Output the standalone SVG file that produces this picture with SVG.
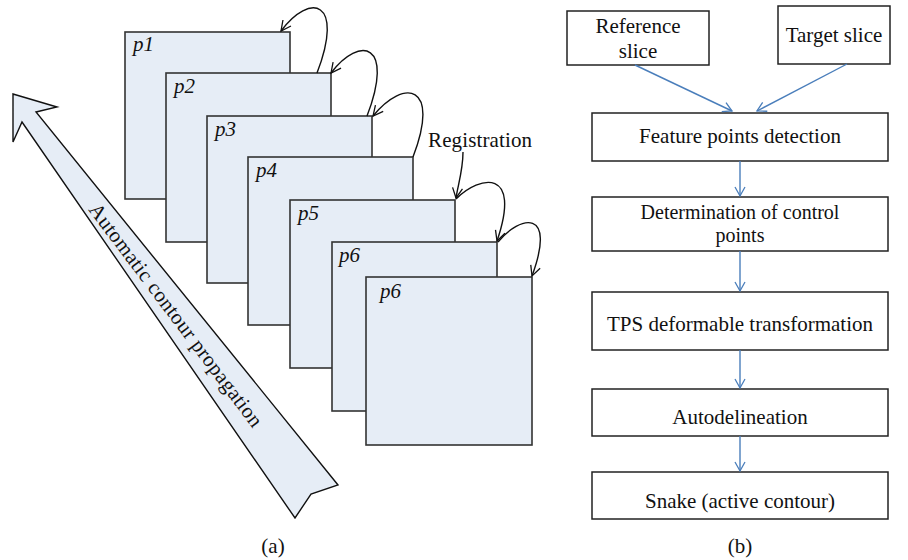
<svg xmlns="http://www.w3.org/2000/svg" width="908" height="560" viewBox="0 0 908 560">
<style>
.slice{fill:#e6edf6;stroke:#333;stroke-width:1.6}
.lbl{font-family:"Liberation Serif",serif;font-style:italic;font-size:21px;fill:#111}
.t{font-family:"Liberation Serif",serif;font-size:21px;fill:#111}
.box{fill:#fff;stroke:#222;stroke-width:1.5}
.loop{fill:none;stroke:#111;stroke-width:1.4;marker-end:url(#ah)}
.flow{fill:none;stroke:#4a7ebb;stroke-width:1.4;marker-end:url(#bh)}
</style>
<defs>
<marker id="ah" markerUnits="userSpaceOnUse" markerWidth="14" markerHeight="14" refX="11" refY="6" orient="auto"><path d="M1,1 L11,6 L1,11" fill="none" stroke="#111" stroke-width="1.3"/></marker>
<marker id="bh" markerUnits="userSpaceOnUse" markerWidth="14" markerHeight="14" refX="11" refY="6" orient="auto"><path d="M2,1 L11,6 L2,11" fill="none" stroke="#4a7ebb" stroke-width="1.3"/></marker>
</defs>
<g id="propagation-arrow">
<polygon points="13,94 57,107 36,112 338,485 311,494 295,518 22,122 13,142" fill="#e6edf6" stroke="#111" stroke-width="1.4" stroke-linejoin="miter"/>
<text class="t" transform="translate(176,315) rotate(53)" x="0" y="7" text-anchor="middle" textLength="274">Automatic contour propagation</text>
</g>
<g id="slice-p1"><rect class="slice" x="125" y="32" width="165" height="167"/><text class="lbl" x="133" y="51">p1</text></g>
<g id="slice-p2"><rect class="slice" x="166" y="73" width="165" height="169"/><text class="lbl" x="174" y="93">p2</text></g>
<g id="slice-p3"><rect class="slice" x="207" y="116" width="165" height="167"/><text class="lbl" x="215" y="136">p3</text></g>
<g id="slice-p4"><rect class="slice" x="248" y="157" width="165" height="168"/><text class="lbl" x="256" y="177">p4</text></g>
<g id="slice-p5"><rect class="slice" x="290" y="200" width="165" height="168"/><text class="lbl" x="298" y="220">p5</text></g>
<g id="slice-p6a"><rect class="slice" x="332" y="242" width="165" height="169"/><text class="lbl" x="339" y="262">p6</text></g>
<g id="slice-p6b"><rect class="slice" x="366" y="277" width="166" height="168"/><text class="lbl" x="380" y="298">p6</text></g>
<g id="registration-label"><text class="t" x="428" y="147" textLength="104">Registration</text></g>
<g id="box-ref"><rect class="box" x="567" y="11" width="142" height="54"/><text class="t" x="638" y="33" text-anchor="middle">Reference</text><text class="t" x="638" y="58" text-anchor="middle">slice</text></g>
<g id="box-target"><rect class="box" x="778" y="6" width="112" height="58"/><text class="t" x="834" y="42" text-anchor="middle">Target slice</text></g>
<g id="box-feature"><rect class="box" x="592" y="113" width="296" height="48"/><text class="t" x="740" y="143" text-anchor="middle">Feature points detection</text></g>
<g id="box-control"><rect class="box" x="592" y="197" width="296" height="54"/><text class="t" x="740" y="219" text-anchor="middle" style="font-size:20px">Determination of control</text><text class="t" x="740" y="242" text-anchor="middle" style="font-size:20px">points</text></g>
<g id="box-tps"><rect class="box" x="592" y="292" width="296" height="58"/><text class="t" x="740" y="331" text-anchor="middle">TPS deformable transformation</text></g>
<g id="box-auto"><rect class="box" x="592" y="389" width="296" height="47"/><text class="t" x="740" y="424" text-anchor="middle">Autodelineation</text></g>
<g id="box-snake"><rect class="box" x="592" y="472" width="296" height="47"/><text class="t" x="740" y="508" text-anchor="middle">Snake (active contour)</text></g>
<g id="captions"><text class="t" x="273" y="553" text-anchor="middle">(a)</text><text class="t" x="740" y="553" text-anchor="middle">(b)</text></g>
<g id="connectors">
<path class="loop" d="M317,73 C345,0 310,-8 281,31"/>
<path class="loop" d="M367,116 C395,43 360,35 331,73"/>
<path class="loop" d="M413,157 C441,84 404,78 373,116"/>
<path class="loop" d="M463,152 C463,170 458,185 456,198"/>
<path class="loop" d="M456,199 C480,175 522,168 497,241"/>
<path class="loop" d="M498,242 C520,215 557,208 532,276"/>
<path class="flow" d="M635,65 L732,111"/>
<path class="flow" d="M847,64 L757,111"/>
<path class="flow" d="M740,161 L740,196"/>
<path class="flow" d="M740,251 L740,291"/>
<path class="flow" d="M740,350 L740,388"/>
<path class="flow" d="M740,436 L740,471"/>
</g>
</svg>
